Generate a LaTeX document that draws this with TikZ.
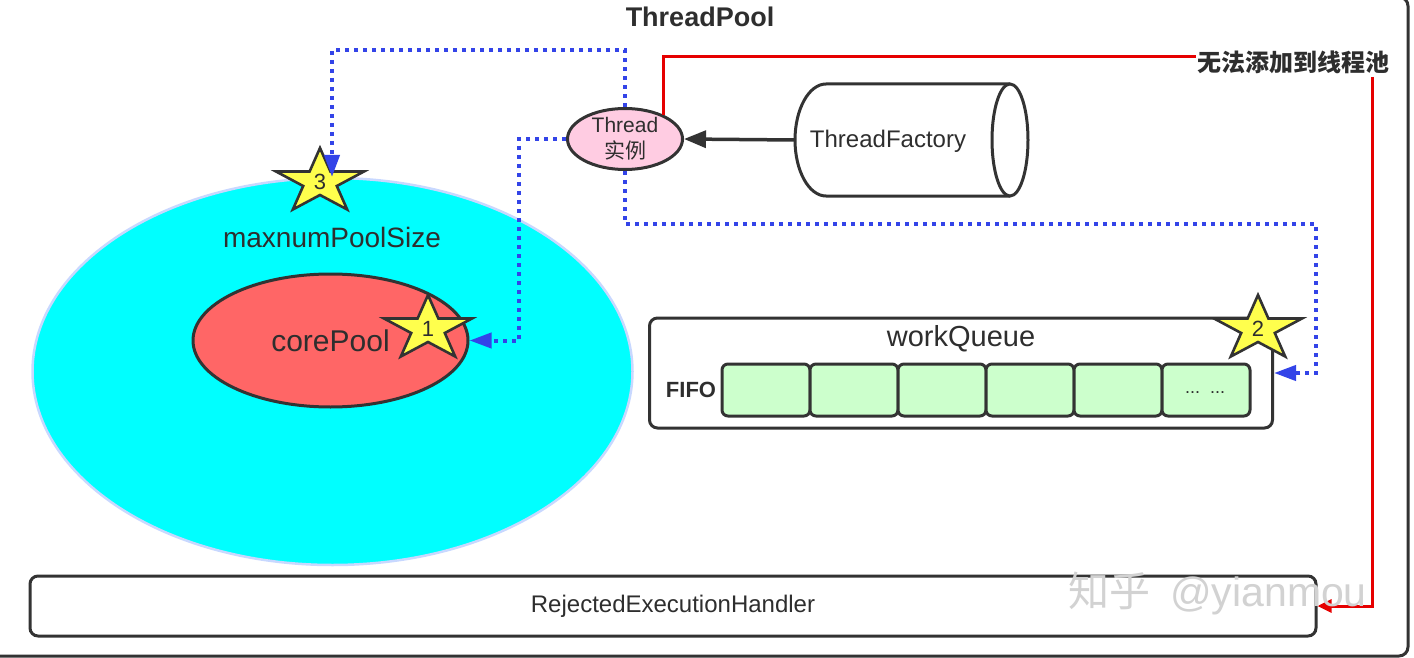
\documentclass[tikz,border=0pt]{standalone}
\usepackage{fontspec}
\setmainfont{Liberation Sans}
\newfontfamily\cjk{Noto Sans CJK SC}
\usetikzlibrary{shapes.geometric,arrows.meta}
\definecolor{dk}{HTML}{333333}
\definecolor{txt}{HTML}{2E2E2E}
\definecolor{cyanfill}{HTML}{00FFFF}
\definecolor{lav}{HTML}{C8D8FF}
\definecolor{corered}{HTML}{FF6666}
\definecolor{pinkfill}{HTML}{FFCCE2}
\definecolor{staryel}{HTML}{FFFF4D}
\definecolor{cellgreen}{HTML}{CCFFCC}
\definecolor{dotblue}{HTML}{3344E8}
\definecolor{linered}{HTML}{E60000}
\definecolor{wmgray}{HTML}{D2D2D2}
\newcommand\fsz[2]{\fontsize{#1}{#2}\selectfont}
\newcommand\ystar[3]{%
  \begin{scope}[shift={#1},xscale=1.36,yscale=-1]
    \draw[starline] (90:34)--(126:13)--(162:34)--(198:13)--(234:34)--(270:13)--(306:34)--(342:13)--(18:34)--(54:13)--cycle;
  \end{scope}
  \node[starlbl] (#2) at #1 {#3};}
\begin{document}
\begin{tikzpicture}[x=1pt,y=-1pt,
  dkline/.style={draw=dk, line width=3pt},
  starline/.style={draw=dk, line width=2.6pt, fill=staryel, line join=miter},
  starlbl/.style={font=\fsz{22}{22}, text=txt, inner sep=0pt},
  bluedot/.style={draw=dotblue, line width=4pt, dash pattern=on 4pt off 5pt, -{Triangle[length=22pt,width=15pt]}},
  redline/.style={draw=linered, line width=3pt},
  dkarrow/.style={draw=dk, line width=3.5pt, -{Triangle[length=22pt,width=17pt]}},
  cellbox/.style={dkline, fill=cellgreen, rounded corners=6pt, minimum width=88pt, minimum height=52pt, inner sep=0pt},
  lbl/.style={text=txt, inner sep=1pt}]
\useasboundingbox (0,0) rectangle (1414,658);
% outer frame
\draw[dkline, rounded corners=9pt] (-20,-3) rectangle (1408,656);
\node[lbl, font=\fsz{27}{27}\bfseries] (title) at (700,17) {ThreadPool};
% pools
\node[ellipse, fill=cyanfill, draw=lav, line width=2.5pt, minimum width=600pt, minimum height=387pt, inner sep=0pt] (maxpool) at (332.5,371.5) {};
\node[lbl, font=\fsz{28}{28}] (maxlbl) at (332,237) {maxnumPoolSize};
\node[ellipse, fill=corered, dkline, minimum width=275pt, minimum height=133pt, inner sep=0pt, font=\fsz{30}{30}, text=txt] (core) at (330.5,340.5) {corePool};
% thread instance
\node[ellipse, fill=pinkfill, dkline, minimum width=115pt, minimum height=61pt, inner sep=0pt, align=center, font=\fsz{21}{26}, text=txt] (thread) at (625,139) {Thread\\{\cjk 实例}};
% thread factory cylinder
\node[minimum width=233pt, minimum height=112pt, inner sep=0pt] (tf) at (911.5,140) {};
\draw[dkline, fill=white] (1010,84) -- (826,84) .. controls (809,84) and (795,109) .. (795,140) .. controls (795,171) and (809,196) .. (826,196) -- (1010,196);
\draw[dkline, fill=white] (1010,140) ellipse [x radius=18pt, y radius=56pt];
\node[lbl, font=\fsz{24}{24}] (tftext) at (888,141) {ThreadFactory};
% work queue
\node[dkline, fill=white, rounded corners=8pt, minimum width=623pt, minimum height=110pt, inner sep=0pt] (wq) at (961,373) {};
\node[lbl, font=\fsz{29}{29}] (wqtext) at (961,339) {workQueue};
\node[lbl, font=\fsz{22}{22}\bfseries] (fifo) at (691,390) {FIFO};
\node[cellbox] (c1) at (766,390) {};
\node[cellbox] (c2) at (854,390) {};
\node[cellbox] (c3) at (942,390) {};
\node[cellbox] (c4) at (1030,390) {};
\node[cellbox] (c5) at (1118,390) {};
\node[cellbox] (c6) at (1206,390) {};
\node[lbl, font=\fsz{18}{18}] (dots) at (1205,393) {...\ \ ...};
% rejected handler
\node[dkline, fill=white, rounded corners=8pt, minimum width=1286pt, minimum height=60pt, inner sep=0pt, font=\fsz{24}{24}, text=txt] (rej) at (673,606) {RejectedExecutionHandler};
% stars
\ystar{(320,182)}{s3}{3}
\ystar{(428,329)}{s1}{1}
\ystar{(1258,329)}{s2}{2}
% red failure path
\node[lbl, font=\fsz{24}{24}\cjk\bfseries, anchor=west] (cjkt) at (1196,62) {无法添加到线程池};
\coordinate (r1) at (1372,77);
\draw[redline] (thread.32) |- ([yshift=5pt]cjkt.west);
\draw[redline, -{Triangle[length=14pt,width=13pt]}] (r1) |- (rej.east);
% factory arrow
\draw[dkarrow] (tf.west) -- (thread.east);
% blue dotted connectors
\coordinate (a3) at (332,177);
\draw[bluedot] (thread.north) |- (332,50) -- (a3);
\draw[bluedot] (thread.west) -- (519,139) |- (core.east);
\draw[bluedot] (thread.south) |- (1316,224) |- (wq.east);
% watermark
\node[anchor=west, text=wmgray, inner sep=0pt, font=\fsz{41}{41}] (wm) at (1068,594) {{\cjk 知乎}\hspace{20pt}@yianmou};
\end{tikzpicture}
\end{document}
